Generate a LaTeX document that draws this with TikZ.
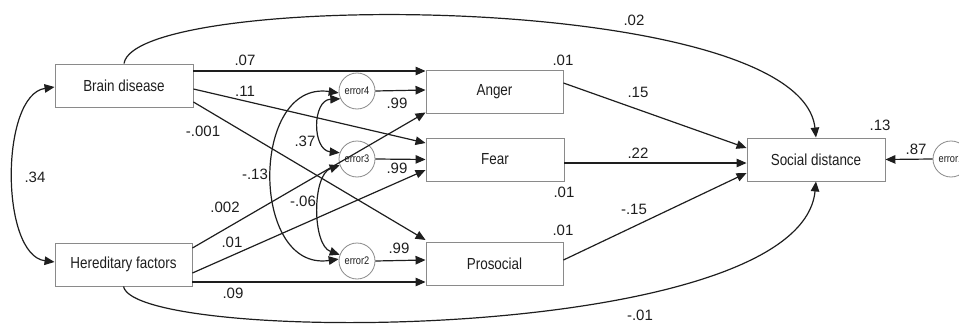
\documentclass[tikz,border=0pt]{standalone}
\usepackage{fontspec}
\setmainfont{Liberation Sans}
\newfontfamily\boxfont[FakeStretch=0.84]{Liberation Sans}
\usetikzlibrary{arrows.meta}
\definecolor{ink}{HTML}{1E1E1E}
\definecolor{rim}{HTML}{8A8A8A}
\begin{document}
\begin{tikzpicture}[x=1pt,y=-1pt,
  var/.style={draw=rim,line width=0.9pt,minimum height=43pt,inner sep=0pt,font=\boxfont\fontsize{16}{18}\selectfont,text=ink},
  err/.style={circle,draw=rim,line width=0.8pt,minimum size=36pt,inner sep=0pt,font=\boxfont\fontsize{11}{12}\selectfont,text=ink},
  num/.style={font=\fontsize{15}{17}\selectfont,text=ink,inner sep=0pt},
  arr/.style={draw=ink,line width=1.2pt,-{Triangle[length=10pt,width=8.5pt]}},
  dbl/.style={draw=ink,line width=1.2pt,{Triangle[length=10pt,width=8.5pt]}-{Triangle[length=10pt,width=8.5pt]}}]
\useasboundingbox (0,0) rectangle (959,324);
% variables
\node[var,minimum width=138pt] (brain) at (124,85.5) {Brain disease};
\node[var,minimum width=137pt] (hered) at (123.5,264.5) {Hereditary factors};
\node[var,minimum width=137pt] (anger) at (494.5,91.5) {Anger};
\node[var,minimum width=138pt] (fear) at (495,159.5) {Fear};
\node[var,minimum width=137pt] (pros) at (494.5,263.5) {Prosocial};
\node[var,minimum width=138pt] (social) at (816,159.5) {Social distance};
\node[err] (e4) at (357,91) {error4};
\node[err] (e3) at (357,159) {error3};
\node[err] (e2) at (357,261) {error2};
\node[err] (e1) at (951,159) {error1};
% paths
\draw[arr] ([yshift=14.5pt]brain.east) -- ([yshift=20.5pt]anger.west);
\draw[arr] ([yshift=-3.5pt]brain.east) -- ([yshift=16.5pt]fear.west);
\draw[arr] ([yshift=-16.5pt]brain.east) -- ([yshift=23.5pt]pros.west);
\draw[arr] ([yshift=16.5pt]hered.east) -- ([yshift=-21pt]anger.west);
\draw[arr] ([yshift=-8.5pt]hered.east) -- ([yshift=-10.5pt]fear.west);
\draw[arr] ([yshift=-17.5pt]hered.east) -- ([yshift=-18.5pt]pros.west);
\draw[arr] (e4.east) -- ([yshift=1.5pt]anger.west);
\draw[arr] (e3.east) -- (fear.west);
\draw[arr] (e2.east) -- ([yshift=3.5pt]pros.west);
\draw[arr] ([yshift=8.5pt]anger.east) -- ([yshift=11.5pt]social.west);
\draw[arr] ([yshift=-3.5pt]fear.east) -- ([yshift=-3.5pt]social.west);
\draw[arr] ([yshift=3.5pt]pros.east) -- ([yshift=-13.5pt]social.west);
\draw[arr] (e1.west) -- (social.east);
% covariances
\draw[dbl] ([yshift=-1.5pt]brain.west) .. controls (0,95) and (0,255) .. ([yshift=2.5pt]hered.west);
\draw[dbl] (e4.186) .. controls (250,80) and (250,272) .. (e2.174);
\draw[dbl] (e4.205) .. controls (312,100) and (312,150) .. (e3.160);
\draw[dbl] (e3.200) .. controls (312,175) and (312,245) .. (e2.160);
% long arcs
\draw[arr] (brain.north) .. controls (135,-10) and (800,-10) .. (social.north);
\draw[arr] (hered.south) .. controls (135,345) and (800,345) .. (social.south);
% labels
\node[num] (l07) at (245,60) {.07};
\node[num] (l11) at (245,91) {.11};
\node[num] (l001) at (203,131) {-.001};
\node[num] (l37) at (305,141) {.37};
\node[num] (l13) at (255,174) {-.13};
\node[num] (l34) at (35,177) {.34};
\node[num] (l002) at (225,207) {.002};
\node[num] (l06) at (303,201) {-.06};
\node[num] (l01a) at (232,242) {.01};
\node[num] (l09) at (233,293) {.09};
\node[num] (l99a) at (397,103) {.99};
\node[num] (l99b) at (397,168) {.99};
\node[num] (l99c) at (399,248) {.99};
\node[num] (l01b) at (563,60) {.01};
\node[num] (l15) at (638,92) {.15};
\node[num] (l22) at (638,153) {.22};
\node[num] (l01c) at (564,192) {.01};
\node[num] (l15n) at (634,209) {-.15};
\node[num] (l01d) at (563,230) {.01};
\node[num] (l13b) at (880,125) {.13};
\node[num] (l87) at (916,149) {.87};
\node[num] (l02) at (634,20) {.02};
\node[num] (l01n) at (640,315) {-.01};
\end{tikzpicture}
\end{document}
